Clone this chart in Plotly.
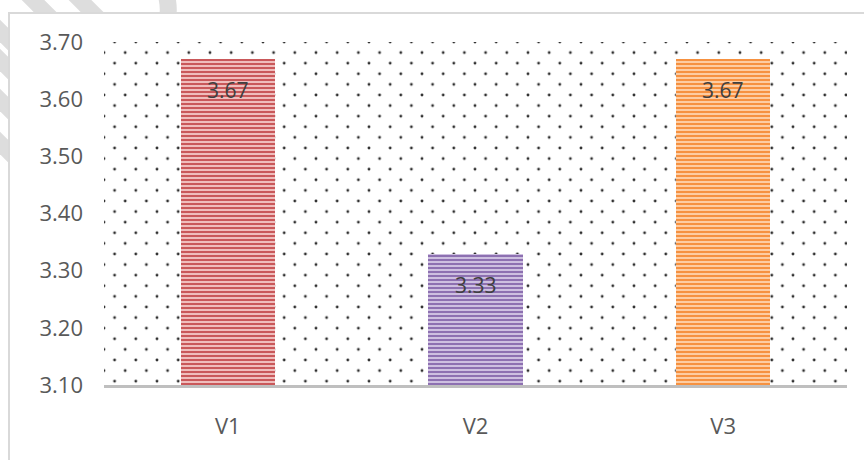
import plotly.graph_objects as go

categories = ["V1", "V2", "V3"]
values = [3.67, 3.33, 3.67]
labels = ["3.67", "3.33", "3.67"]
y_ticks = [3.10, 3.20, 3.30, 3.40, 3.50, 3.60, 3.70]
y_tick_text = ["3.10", "3.20", "3.30", "3.40", "3.50", "3.60", "3.70"]
y_min, y_max = 3.10, 3.70

bar_dark = ["#C9585A", "#8D70B1", "#F69140"]
bar_light = ["#EFBDBC", "#CDBFE0", "#FDCCA2"]

W, H = 864, 460
# plot area in pixels
PX0, PX1, PY0, PY1 = 104, 847, 42, 385
DOT = 21.2        # dot grid pitch (px)
HALF = DOT / 2
# paper area (leaves room for the offset dot grid)
L, R, T, B = PX0 - 11, W - PX1, PY0 - 11, H - PY1
pw, ph = W - L - R, H - T - B


def px(x):
    return (x - L) / pw


def py(y):
    return (H - B - y) / ph


dot_pattern = dict(shape=".", fgcolor="#2E2E2E", bgcolor="rgba(0,0,0,0)",
                   size=DOT, solidity=0.014, fillmode="replace")

fig = go.Figure()

# dot grid 1: origin shifted up by half a pitch
fig.add_trace(go.Bar(
    x=[0.5], y=[PY1 - PY0], base=[0], width=[1], xaxis="x", yaxis="y",
    marker=dict(color="rgba(0,0,0,0)", line=dict(width=0), pattern=dot_pattern),
    hoverinfo="skip", showlegend=False,
))
# dot grid 2: origin shifted left by half a pitch
fig.add_trace(go.Bar(
    x=[(HALF + (PX1 - PX0 + HALF)) / 2], y=[1], base=[0], width=[PX1 - PX0],
    xaxis="x2", yaxis="y2",
    marker=dict(color="rgba(0,0,0,0)", line=dict(width=0), pattern=dot_pattern),
    hoverinfo="skip", showlegend=False,
))

for c, v, dk, lt in zip(categories, values, bar_dark, bar_light):
    fig.add_trace(go.Bar(
        x=[c], y=[v - y_min], base=[y_min], width=[0.38], xaxis="x3", yaxis="y3",
        marker=dict(color=lt, line=dict(width=0),
                    pattern=dict(shape="-", fgcolor=dk, bgcolor=lt,
                                 size=4, solidity=0.5, fillmode="replace")),
        showlegend=False,
    ))

for c, v, t in zip(categories, values, labels):
    fig.add_annotation(x=c, y=v, xref="x3", yref="y3", text=t, showarrow=False,
                       yanchor="top", yshift=-15,
                       font=dict(family="Open Sans", size=21, color="#404040"))

# watermark-like stripes behind chart box
stripe = dict(type="line", xref="paper", yref="paper", layer="below",
              line=dict(color="#DDDDDD", width=16))
for cx in [33, 80]:
    fig.add_shape(x0=px(cx - 30), y0=py(-30), x1=px(cx + 30), y1=py(30), **stripe)
for cy in [31, 60, 100, 143]:
    fig.add_shape(x0=px(-30), y0=py(cy - 30), x1=px(30), y1=py(cy + 30), **stripe)
fig.add_shape(type="path", xref="paper", yref="paper", layer="below",
              path=f"M {px(166)} {py(-6)} Q {px(170)} {py(8)} {px(167)} {py(22)}",
              line=dict(color="#DDDDDD", width=17))
# chart box
fig.add_shape(type="rect", xref="paper", yref="paper", layer="below",
              x0=px(9), y0=py(13), x1=px(880), y1=py(480),
              line=dict(color="#D9D9D9", width=2), fillcolor="white")

hidden = dict(visible=False, showgrid=False, zeroline=False, fixedrange=True)
main_xdom = [px(PX0), px(PX1)]
main_ydom = [py(PY1), py(PY0)]

fig.update_layout(
    width=W, height=H,
    margin=dict(l=L, r=R, t=T, b=B),
    paper_bgcolor="white", plot_bgcolor="rgba(0,0,0,0)",
    barmode="overlay", bargap=0,
    font=dict(family="Open Sans", size=22, color="#595959"),
    xaxis=dict(domain=main_xdom, range=[0, 1], anchor="y", **hidden),
    yaxis=dict(domain=[py(PY1), py(PY0 - HALF)], range=[0, PY1 - PY0 + HALF],
               anchor="x", **hidden),
    xaxis2=dict(domain=[px(PX0 - HALF), px(PX1)], range=[0, PX1 - PX0 + HALF],
                anchor="y2", **hidden),
    yaxis2=dict(domain=main_ydom, range=[0, 1], anchor="x2", **hidden),
    xaxis3=dict(domain=main_xdom, anchor="y3", type="category",
                categoryorder="array", categoryarray=categories,
                range=[-0.5, len(categories) - 0.5], showgrid=False, zeroline=False,
                showline=True, linecolor="#BFBFBF", linewidth=3, ticks="",
                ticklabelstandoff=20, tickfont=dict(size=22, color="#595959")),
    yaxis3=dict(domain=main_ydom, anchor="x3", range=[y_min, y_max],
                tickvals=y_ticks, ticktext=y_tick_text,
                showgrid=False, zeroline=False, showline=False, ticks="",
                ticklabelstandoff=20, tickfont=dict(size=22, color="#595959")),
)

fig.write_html("out.html")
